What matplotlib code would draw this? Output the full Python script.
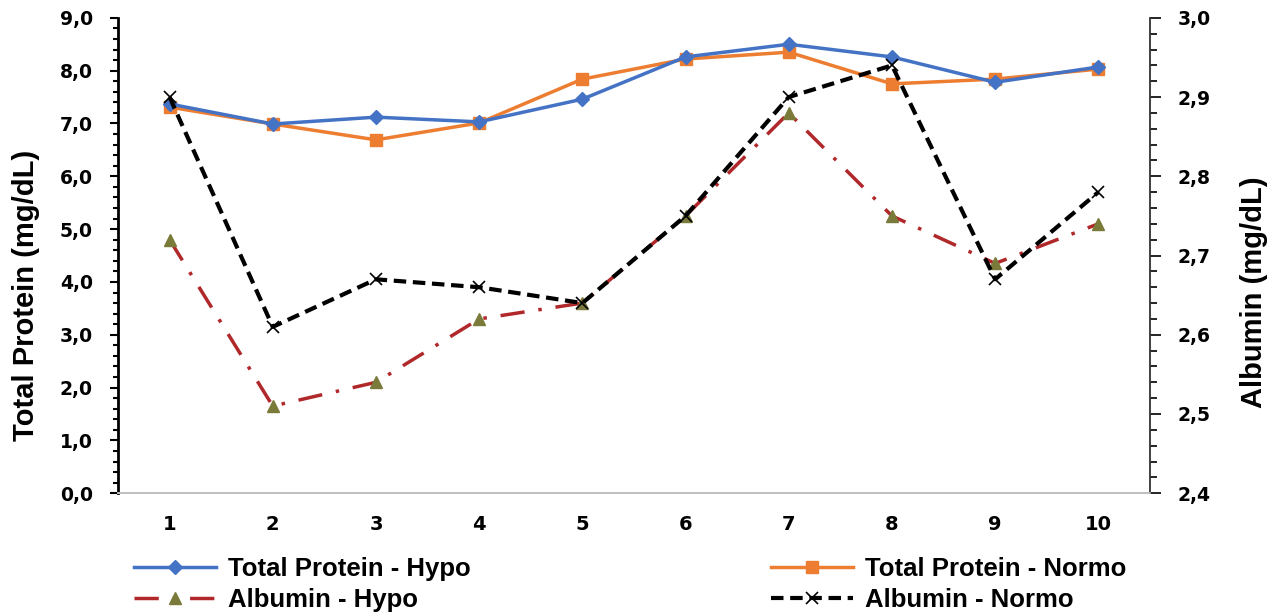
import matplotlib
matplotlib.use("Agg")
import matplotlib.pyplot as plt
from matplotlib.ticker import MultipleLocator, FuncFormatter

# data
samples = [1, 2, 3, 4, 5, 6, 7, 8, 9, 10]
tp_hypo = [7.37, 6.99, 7.12, 7.03, 7.46, 8.26, 8.50, 8.26, 7.78, 8.07]
tp_normo = [7.31, 6.99, 6.69, 7.01, 7.84, 8.22, 8.35, 7.75, 7.84, 8.03]
alb_hypo = [2.72, 2.51, 2.54, 2.62, 2.64, 2.75, 2.88, 2.75, 2.69, 2.74]
alb_normo = [2.90, 2.61, 2.67, 2.66, 2.64, 2.75, 2.90, 2.94, 2.67, 2.78]

tick_font = dict(family="DejaVu Sans", weight="bold")
label_font = ["Liberation Sans", "DejaVu Sans"]


def comma(v, pos):
    return f"{v:.1f}".replace(".", ",")


fig = plt.figure(figsize=(12.74, 6.15), dpi=100)
ax = fig.add_axes([0.0926, 0.198, 0.81, 0.773])
ax2 = ax.twinx()

l1, = ax.plot(samples, tp_hypo, color="#4472C4", lw=2.5, marker="D", ms=7,
              label="Total Protein - Hypo", zorder=3)
l2, = ax.plot(samples, tp_normo, color="#ED7D31", lw=2.5, marker="s", ms=9,
              label="Total Protein - Normo", zorder=2)
l3, = ax2.plot(samples, alb_hypo, color="#B0282A", lw=2.5, dashes=(7, 4, 1, 4),
               marker="^", ms=9, mfc="#7A7A3A", mec="#7A7A3A",
               label="Albumin - Hypo")
l4, = ax2.plot(samples, alb_normo, color="black", lw=3, dashes=(3, 1.6),
               marker="x", ms=9, mew=1.2, label="Albumin - Normo")

ax.set_xlim(0.5, 10.5)
ax.set_ylim(0, 9)
ax2.set_ylim(2.4, 3.0)

ax.set_xticks(samples)
ax.set_xticklabels([str(s) for s in samples], fontsize=14, **tick_font)
ax.tick_params(axis="x", length=0, pad=16)

ax.yaxis.set_major_locator(MultipleLocator(1))
ax.yaxis.set_minor_locator(MultipleLocator(0.2))
ax.yaxis.set_major_formatter(FuncFormatter(comma))
ax.tick_params(axis="y", which="major", length=6, width=1.5, pad=12, labelsize=13.5)
ax.tick_params(axis="y", which="minor", length=3.5, width=1.5)
for t in ax.get_yticklabels():
    t.set_fontweight("bold")

ax2.yaxis.set_major_locator(MultipleLocator(0.1))
ax2.yaxis.set_minor_locator(MultipleLocator(0.02))
ax2.yaxis.set_major_formatter(FuncFormatter(comma))
ax2.tick_params(axis="y", which="major", length=8, width=1.2, pad=12, labelsize=13.5)
ax2.tick_params(axis="y", which="minor", length=5, width=1.2)
for t in ax2.get_yticklabels():
    t.set_fontweight("bold")

for a in (ax, ax2):
    a.spines["top"].set_visible(False)
    a.spines["bottom"].set_color("#BFBFBF")
    a.spines["bottom"].set_linewidth(1.2)
ax.spines["left"].set_linewidth(2)
ax.spines["right"].set_visible(False)
ax2.spines["left"].set_visible(False)
ax2.spines["right"].set_linewidth(1.3)
ax2.spines["right"].set_color("#333333")

ax.set_ylabel("Total Protein (mg/dL)", fontsize=21, fontweight="bold",
              family=label_font)
ax.yaxis.set_label_coords(-0.076, 0.417)
ax2.set_ylabel("Albumin (mg/dL)", fontsize=21, fontweight="bold",
               family=label_font)
ax2.yaxis.set_label_coords(1.087, 0.423)

fig.legend(handles=[l1, l3, l2, l4], ncol=2, loc="upper left",
           bbox_to_anchor=(0.105, 0.094), frameon=False,
           prop=dict(family=label_font, weight="bold", size=18.5),
           handlelength=3.2, handletextpad=0.45, columnspacing=11.7,
           labelspacing=0.27, borderaxespad=0, borderpad=0)

fig.savefig("out.png", dpi=100)
